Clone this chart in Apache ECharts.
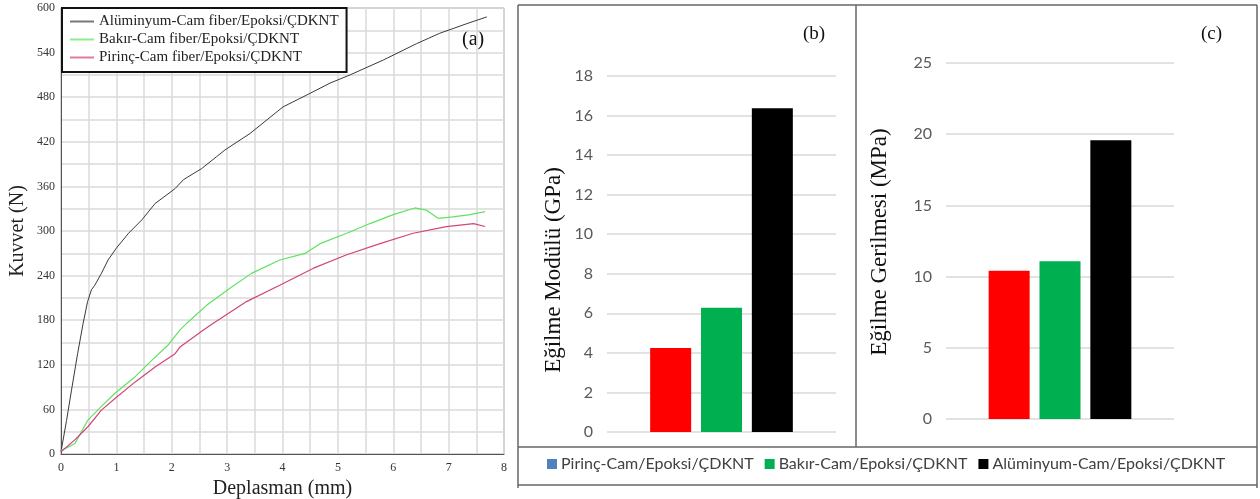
<!DOCTYPE html>
<html>
<head>
<meta charset="utf-8">
<script src="https://cdn.jsdelivr.net/npm/echarts@6/dist/echarts.min.js"></script>
<style>
html,body{margin:0;padding:0;background:#fff;}
#c{width:1260px;height:499px;}
</style>
</head>
<body>
<div id="c"></div>
<script>
// ---- Panel (a): force-displacement curves ----
const alName = 'Alüminyum-Cam fiber/Epoksi/ÇDKNT';
const cuName = 'Bakır-Cam fiber/Epoksi/ÇDKNT';
const brName = 'Pirinç-Cam fiber/Epoksi/ÇDKNT';

const alDisp  = [0, 0.1, 0.19, 0.3, 0.4, 0.48, 0.55, 0.61, 0.73, 0.85, 1.0, 1.22, 1.46, 1.7, 2.06, 2.21, 2.54, 2.81, 2.96, 3.41, 4.01, 4.44, 4.86, 5.22, 5.82, 6.42, 6.84, 7.33, 7.69];
const alForce = [3, 45, 86, 135, 176, 205, 221, 227, 243, 261, 277, 297, 315, 337, 357, 369, 384, 400, 409, 431, 467, 483, 499, 510, 530, 552, 566, 579, 588];

const cuDisp  = [0, 0.1, 0.25, 0.49, 0.73, 0.98, 1.34, 1.64, 1.94, 2.15, 2.3, 2.63, 3.05, 3.44, 3.95, 4.41, 4.68, 5.16, 5.58, 6.0, 6.39, 6.6, 6.81, 7.08, 7.39, 7.66];
const cuForce = [5, 8, 14, 46, 64, 82, 104, 126, 147, 167, 178, 200, 223, 243, 261, 270, 283, 297, 310, 322, 331, 328, 317, 319, 322, 326];

const brDisp  = [0, 0.25, 0.49, 0.73, 0.98, 1.34, 1.7, 2.06, 2.15, 2.54, 2.75, 3.02, 3.35, 3.95, 4.56, 5.16, 5.76, 6.36, 6.96, 7.45, 7.66];
const brForce = [3, 19, 37, 59, 75, 97, 117, 135, 144, 165, 176, 189, 205, 227, 250, 268, 283, 297, 306, 310, 306];

// ---- Panels (b) and (c): bar values ----
const barNames   = ['Pirinç-Cam/Epoksi/ÇDKNT', 'Bakır-Cam/Epoksi/ÇDKNT', 'Alüminyum-Cam/Epoksi/ÇDKNT'];
const barColors  = ['#ff0000', '#00b050', '#000000'];
const legendIconColors = ['#4f81bd', '#00b050', '#000000'];
const modulus    = [4.25, 6.28, 16.37];   // Eğilme Modülü (GPa)
const strength   = [10.41, 11.07, 19.57]; // Eğilme Gerilmesi (MPa)
const category   = [''];

const zip = (a, b) => a.map((v, i) => [v, b[i]]);

const serif = 'Liberation Serif, Times New Roman, serif';
const sans = 'Lato, Open Sans, sans-serif';

const chart = echarts.init(document.getElementById('c'), null, {renderer: 'canvas'});

const lineDefs = [
  {name: alName, data: zip(alDisp, alForce), color: '#3a3a3a', legend: '#777777', w: 1},
  {name: cuName, data: zip(cuDisp, cuForce), color: '#5fe25f', legend: '#8ded8d', w: 1.2},
  {name: brName, data: zip(brDisp, brForce), color: '#d2447c', legend: '#e07aa0', w: 1.2}
];
const lineSeries = lineDefs.map(s => ({
  type: 'line', name: s.name, data: s.data, xAxisIndex: 0, yAxisIndex: 0,
  symbol: 'none', smooth: false, color: s.color,
  lineStyle: {color: s.color, width: s.w}, z: 3
}));

const barSeries = [];
[modulus, strength].forEach((vals, gi) => {
  barNames.forEach((n, i) => {
    barSeries.push({
      type: 'bar', name: n, data: [vals[i]],
      xAxisIndex: gi + 1, yAxisIndex: gi + 1,
      barWidth: 41, barGap: '24%',
      itemStyle: {color: barColors[i]}
    });
  });
});

const frame = '#666';
const L = (x1, y1, x2, y2) => ({type: 'line', shape: {x1, y1, x2, y2}, style: {stroke: frame, lineWidth: 1.5}, silent: true});

chart.setOption({
  animation: false,
  backgroundColor: '#fff',
  grid: [
    {left: 61, top: 8, width: 443, height: 446, show: true, borderColor: '#8a8a8a', borderWidth: 1, containLabel: false, outerBoundsMode: 'none'},
    {left: 607, top: 76, width: 229, height: 356, outerBoundsMode: 'none'},
    {left: 946, top: 63, width: 228, height: 356, outerBoundsMode: 'none'}
  ],
  xAxis: [
    {gridIndex: 0, type: 'value', min: 0, max: 8, interval: 1,
     name: 'Deplasman (mm)', nameLocation: 'middle', nameGap: 24,
     nameTextStyle: {fontFamily: serif, fontSize: 20, color: '#222'},
     axisLine: {show: true, lineStyle: {color: '#555'}}, axisTick: {show: false},
     axisLabel: {fontFamily: serif, fontSize: 12, color: '#333', margin: 8},
     splitLine: {show: true, lineStyle: {color: '#dadada', width: 1.5}},
     minorTick: {show: false, splitNumber: 2},
     minorSplitLine: {show: true, lineStyle: {color: '#dadada', width: 1.5}}},
    {gridIndex: 1, type: 'category', data: category, axisLine: {show: false}, axisTick: {show: false}, axisLabel: {show: false}},
    {gridIndex: 2, type: 'category', data: category, axisLine: {show: false}, axisTick: {show: false}, axisLabel: {show: false}}
  ],
  yAxis: [
    {gridIndex: 0, type: 'value', min: 0, max: 600, interval: 60,
     name: 'Kuvvet (N)', nameLocation: 'middle', nameGap: 33,
     nameTextStyle: {fontFamily: serif, fontSize: 20, color: '#222'},
     axisLine: {show: true, lineStyle: {color: '#555'}}, axisTick: {show: false},
     axisLabel: {fontFamily: serif, fontSize: 12, color: '#333', margin: 6},
     splitLine: {show: true, lineStyle: {color: '#dadada', width: 1.5}},
     minorTick: {show: false, splitNumber: 2},
     minorSplitLine: {show: true, lineStyle: {color: '#dadada', width: 1.5}}},
    {gridIndex: 1, type: 'value', min: 0, max: 18, interval: 2,
     axisLine: {show: false}, axisTick: {show: false},
     axisLabel: {fontFamily: sans, fontSize: 16, color: '#595959', margin: 14},
     splitLine: {lineStyle: {color: '#d9d9d9', width: 1.5}}},
    {gridIndex: 2, type: 'value', min: 0, max: 25, interval: 5,
     axisLine: {show: false}, axisTick: {show: false},
     axisLabel: {fontFamily: sans, fontSize: 16, color: '#595959', margin: 14},
     splitLine: {lineStyle: {color: '#d9d9d9', width: 1.5}}}
  ],
  legend: [
    {data: lineDefs.map(s => ({name: s.name, icon: 'rect', itemStyle: {color: s.legend}})),
     orient: 'vertical', left: 62, top: 8,
     padding: [5, 8, 6, 8], itemGap: 1, itemWidth: 24, itemHeight: 2,
     backgroundColor: '#fff', borderColor: '#111', borderWidth: 2,
     textStyle: {fontFamily: serif, fontSize: 15, lineHeight: 17, color: '#222'}, selectedMode: false, z: 10},
    {data: barNames.map((n, i) => ({name: n, icon: 'rect', itemStyle: {color: legendIconColors[i]}})),
     orient: 'horizontal', left: 547, top: 456, padding: 0, itemGap: 11,
     itemWidth: 10, itemHeight: 10,
     textStyle: {fontFamily: sans, fontSize: 16, color: '#404040', padding: [0, 0, 0, -1]}, selectedMode: false}
  ],
  series: lineSeries.concat(barSeries),
  graphic: [
    L(518, 5, 1257, 5),
    L(518, 5, 518, 488),
    L(1257, 5, 1257, 488),
    L(856, 5, 856, 447),
    L(518, 447, 1257, 447),
    L(518, 485, 1257, 485),
    {type: 'text', left: 462, top: 30, style: {text: '(a)', font: '20px ' + serif, fill: '#111'}},
    {type: 'text', left: 803, top: 25, style: {text: '(b)', font: '19px ' + serif, fill: '#111'}},
    {type: 'text', left: 1201, top: 25, style: {text: '(c)', font: '19px ' + serif, fill: '#111'}},
    {type: 'text', x: 554, y: 270, rotation: Math.PI / 2,
     style: {text: 'Eğilme Modülü (GPa)', font: '23px ' + serif, fill: '#111', align: 'center', verticalAlign: 'middle'}},
    {type: 'text', x: 880, y: 242, rotation: Math.PI / 2,
     style: {text: 'Eğilme Gerilmesi (MPa)', font: '23px ' + serif, fill: '#111', align: 'center', verticalAlign: 'middle'}}
  ]
});
</script>
</body>
</html>
